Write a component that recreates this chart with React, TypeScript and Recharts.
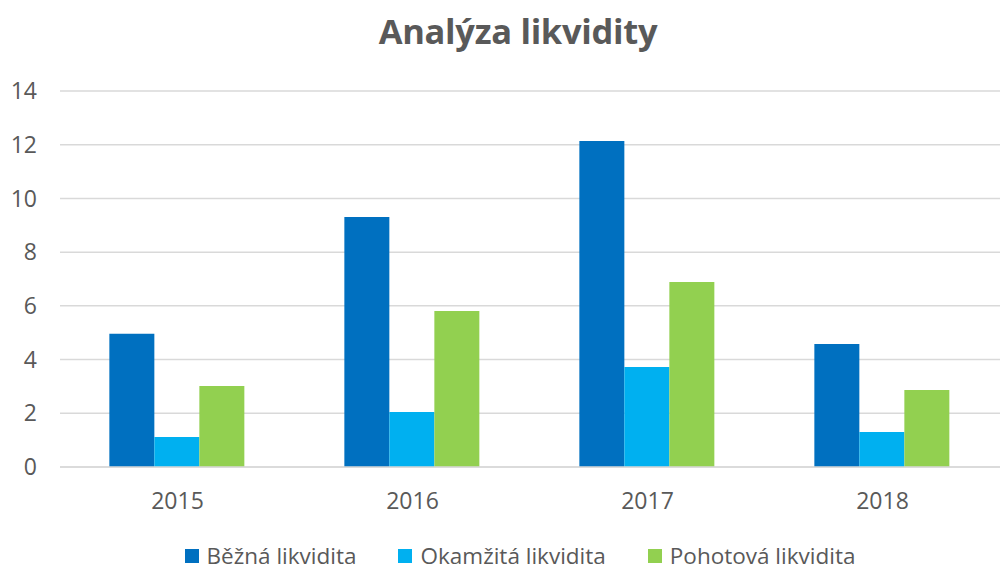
import React from "react";
import { BarChart, Bar, XAxis, YAxis, CartesianGrid, Legend } from "recharts";

const years = ["2015", "2016", "2017", "2018"];
const bezna = [4.96, 9.31, 12.14, 4.58];
const okamzita = [1.12, 2.05, 3.72, 1.3];
const pohotova = [3.02, 5.81, 6.89, 2.87];
const yTicks = [0, 2, 4, 6, 8, 10, 12, 14];

const data = years.map((year, i) => ({
  year,
  bezna: bezna[i],
  okamzita: okamzita[i],
  pohotova: pohotova[i],
}));

const font = "'Open Sans', 'Liberation Sans', sans-serif";
const textColor = "#595959";

const LegendContent = ({ payload }: any) => (
  <div
    style={{
      display: "flex",
      justifyContent: "center",
      gap: 42,
      fontSize: 22.5,
      lineHeight: "28px",
      height: 28,
      fontFamily: font,
      color: textColor,
      paddingLeft: 40,
    }}
  >
    {(payload || []).map((entry: any) => (
      <div key={entry.value} style={{ display: "flex", alignItems: "center" }}>
        <span
          style={{
            display: "inline-block",
            width: 14,
            height: 14,
            background: entry.color,
            marginRight: 8,
          }}
        />
        <span>{entry.value}</span>
      </div>
    ))}
  </div>
);

export default function App() {
  return (
    <div
      style={{
        position: "absolute",
        left: 0,
        top: 0,
        width: 1004,
        height: 570,
        background: "#fff",
        fontFamily: font,
      }}
    >
      <div
        style={{
          position: "absolute",
          top: 7,
          left: 0,
          width: 1036,
          textAlign: "center",
          fontSize: 34.5,
          fontWeight: 700,
          color: textColor,
          letterSpacing: -0.3,
        }}
      >
        Analýza likvidity
      </div>
      <BarChart
        width={1004}
        height={570}
        data={data}
        margin={{ top: 91, right: 4, left: 0, bottom: 33 }}
        barCategoryGap="21%"
        barGap={0}
      >
        <CartesianGrid vertical={false} stroke="#D9D9D9" strokeWidth={1.5} />
        <XAxis
          dataKey="year"
          axisLine={{ stroke: "#D9D9D9", strokeWidth: 1.5 }}
          tickLine={false}
          tickSize={0}
          tickMargin={26}
          height={42}
          tick={{ fill: textColor, fontSize: 23, fontFamily: font }}
        />
        <YAxis
          domain={[0, 14]}
          ticks={yTicks}
          axisLine={false}
          tickLine={false}
          tickSize={0}
          tickMargin={23}
          width={60}
          tick={{ fill: textColor, fontSize: 23, fontFamily: font }}
        />
        <Legend
          verticalAlign="bottom"
          align="center"
          wrapperStyle={{ bottom: 0 }}
          content={<LegendContent />}
        />
        <Bar dataKey="bezna" name="Běžná likvidita" fill="#0070C0" isAnimationActive={false} />
        <Bar dataKey="okamzita" name="Okamžitá likvidita" fill="#00B0F0" isAnimationActive={false} />
        <Bar dataKey="pohotova" name="Pohotová likvidita" fill="#92D050" isAnimationActive={false} />
      </BarChart>
    </div>
  );
}
